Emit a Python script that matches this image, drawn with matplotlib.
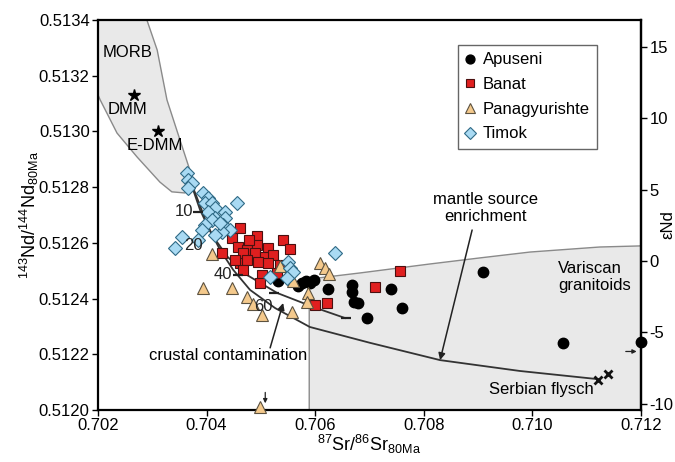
import numpy as np
import matplotlib
matplotlib.use('Agg')
import matplotlib.pyplot as plt

plt.rcParams['font.family'] = ['Liberation Sans', 'DejaVu Sans']
plt.rcParams['mathtext.fontset'] = 'custom'
plt.rcParams['mathtext.rm'] = 'Liberation Sans'
plt.rcParams['mathtext.it'] = 'Liberation Sans:italic'
plt.rcParams['mathtext.default'] = 'regular'
plt.rcParams['axes.unicode_minus'] = False

# --- sample data (87Sr/86Sr, 143Nd/144Nd at 80 Ma) ---
apuseni_sr = [0.70531, 0.70568, 0.70576, 0.70583, 0.70590, 0.70598, 0.70624, 0.70668,
              0.70668, 0.70671, 0.70679, 0.70740, 0.70760, 0.70695, 0.70909, 0.71056, 0.71200]
apuseni_nd = [0.512463, 0.512445, 0.512456, 0.512463, 0.512456, 0.512467, 0.512434, 0.512449,
              0.512424, 0.512388, 0.512384, 0.512434, 0.512366, 0.512330, 0.512495, 0.512241, 0.512244]

banat_sr = [0.70462, 0.70447, 0.70493, 0.70541, 0.70428, 0.70458, 0.70474, 0.70493, 0.70513,
            0.70554, 0.70467, 0.70489, 0.70508, 0.70522, 0.70462, 0.70474, 0.70495, 0.70513,
            0.70535, 0.70467, 0.70502, 0.70530, 0.70498, 0.70600, 0.70622, 0.70710, 0.70756,
            0.70478, 0.70452]
banat_nd = [0.512653, 0.512617, 0.512625, 0.512610, 0.512564, 0.512585, 0.512574, 0.512592, 0.512582,
            0.512578, 0.512564, 0.512564, 0.512549, 0.512556, 0.512528, 0.512538, 0.512531, 0.512528,
            0.512521, 0.512503, 0.512485, 0.512492, 0.512456, 0.512377, 0.512384, 0.512442, 0.512499,
            0.512610, 0.512538]

pana_sr = [0.70410, 0.70393, 0.70447, 0.70474, 0.70485, 0.70502, 0.70557, 0.70587, 0.70585,
           0.70535, 0.70559, 0.70609, 0.70618, 0.70625, 0.70498]
pana_nd = [0.512560, 0.512438, 0.512438, 0.512406, 0.512381, 0.512341, 0.512352, 0.512420, 0.512388,
           0.512517, 0.512463, 0.512528, 0.512510, 0.512488, 0.512012]

timok_sr = [0.70364, 0.70366, 0.70373, 0.70366, 0.70393, 0.70403, 0.70397, 0.70410, 0.70456,
            0.70415, 0.70403, 0.70434, 0.70415, 0.70434, 0.70410, 0.70430, 0.70397, 0.70443,
            0.70392, 0.70428, 0.70415, 0.70355, 0.70384, 0.70342, 0.70636, 0.70550, 0.70554,
            0.70559, 0.70548, 0.70517, 0.70425]
timok_nd = [0.512851, 0.512826, 0.512815, 0.512797, 0.512779, 0.512761, 0.512743, 0.512743, 0.512743,
            0.512725, 0.512711, 0.512711, 0.512689, 0.512689, 0.512682, 0.512664, 0.512664, 0.512646,
            0.512646, 0.512639, 0.512628, 0.512621, 0.512610, 0.512582, 0.512564, 0.512531, 0.512510,
            0.512495, 0.512474, 0.512477, 0.512671]

mantle_sr = [0.70266, 0.70310]        # DMM, E-DMM
mantle_nd = [0.513131, 0.513002]
flysch_sr = [0.71121, 0.71139]
flysch_nd = [0.512108, 0.512129]

# fields
morb_sr = [0.70200, 0.70290, 0.70309, 0.70327, 0.70351, 0.70369, 0.70375, 0.70360, 0.70336,
           0.70314, 0.70272, 0.70235, 0.70204, 0.70200]
morb_nd = [0.51340, 0.51340, 0.513292, 0.513113, 0.512969, 0.512862, 0.512808, 0.512779, 0.512783,
           0.512818, 0.512908, 0.512994, 0.513113, 0.513131]
varis_sr = [0.70589, 0.70589, 0.70683, 0.70811, 0.70904, 0.70996, 0.71124, 0.71200, 0.71200]
varis_nd = [0.51200, 0.512470, 0.512492, 0.512524, 0.512546, 0.512567, 0.512585, 0.512589, 0.51200]

# mixing curves
upper_sr = [0.70364, 0.70388, 0.70410, 0.70439, 0.70474, 0.70530, 0.70596, 0.70655]
upper_nd = [0.512854, 0.512718, 0.512628, 0.512549, 0.512485, 0.512420, 0.512370, 0.512330]
lower_sr = [0.70364, 0.70403, 0.70425, 0.70449, 0.70480, 0.70526, 0.70590, 0.70701, 0.70830,
            0.70977, 0.71119]
lower_nd = [0.512854, 0.512657, 0.512574, 0.512503, 0.512431, 0.512366, 0.512298, 0.512241, 0.512179,
            0.512140, 0.512111]

tick_pct = ['10', '20', '40', '60']
tick_lab_sr = [0.70375, 0.70393, 0.70447, 0.70522]
tick_lab_nd = [0.512711, 0.512589, 0.512485, 0.512370]
dash_sr = [0.70384, 0.70458, 0.70524, 0.70657]
dash_nd = [0.512711, 0.512485, 0.512420, 0.512330]

CHUR_80 = 0.512535


def nd_to_eps(nd):
    return (np.asarray(nd) / CHUR_80 - 1.0) * 1e4


def eps_to_nd(e):
    return (np.asarray(e) / 1e4 + 1.0) * CHUR_80


fig = plt.figure(figsize=(6.75, 4.62), dpi=100)
ax = fig.add_axes([0.1452, 0.1126, 0.8044, 0.8442])

field_kw = dict(facecolor='#e9e9e9', edgecolor='#8a8a8a', linewidth=1.0, zorder=0)
ax.fill(morb_sr, morb_nd, **field_kw)
ax.fill(varis_sr, varis_nd, **field_kw)

ax.plot(upper_sr, upper_nd, color='#333333', lw=1.3, zorder=1)
ax.plot(lower_sr, lower_nd, color='#333333', lw=1.3, zorder=1)
ax.plot(dash_sr, dash_nd, '_', color='#222222', ms=7, mew=1.6, zorder=4)
for t, x, y in zip(tick_pct, tick_lab_sr, tick_lab_nd):
    ax.text(x, y, t, ha='right', va='center', fontsize=12, color='#222222', zorder=5)

ax.plot(apuseni_sr, apuseni_nd, 'o', ms=7.5, mfc='black', mec='black', label='Apuseni',
        clip_on=False, zorder=3)
ax.plot(banat_sr, banat_nd, 's', ms=7, mfc='#e01f1f', mec='#4a1010', mew=0.8, label='Banat',
        clip_on=False, zorder=3)
ax.plot(pana_sr, pana_nd, '^', ms=8.5, mfc='#f4c98c', mec='#5c5240', mew=0.8, label='Panagyurishte',
        clip_on=False, zorder=3)
ax.plot(timok_sr, timok_nd, 'D', ms=7.3, mfc='#a9daf3', mec='#2f6a86', mew=0.8, label='Timok',
        clip_on=False, zorder=3)

ax.plot(mantle_sr, mantle_nd, '*', ms=9, color='black', zorder=3)
ax.plot(flysch_sr, flysch_nd, 'x', ms=6, mew=2, color='#111111', zorder=3)

ax.text(0.70255, 0.513282, 'MORB', ha='center', va='center', fontsize=12)
ax.text(0.70255, 0.513077, 'DMM', ha='center', va='center', fontsize=12)
ax.text(0.70305, 0.512948, 'E-DMM', ha='center', va='center', fontsize=12)
ax.text(0.71047, 0.512476, 'Variscan\ngranitoids', ha='left', va='center', fontsize=12,
        linespacing=1.15)
ax.text(0.71016, 0.512072, 'Serbian flysch', ha='center', va='center', fontsize=12)

arrow = dict(arrowstyle='-|>', color='#222222', lw=1.1, mutation_scale=10, shrinkA=0, shrinkB=0)
ax.text(0.70439, 0.512194, 'crustal contamination', ha='center', va='center', fontsize=12)
ax.annotate('', xy=(0.70541, 0.512384), xytext=(0.70517, 0.512223), arrowprops=dict(arrow))
ax.text(0.70913, 0.512725, 'mantle source\nenrichment', ha='center', va='center', fontsize=12,
        linespacing=1.15)
ax.annotate('', xy=(0.70830, 0.512179), xytext=(0.70889, 0.512646), arrowprops=dict(arrow))
small = dict(arrowstyle='-|>', color='#222222', lw=0.9, mutation_scale=6, shrinkA=0, shrinkB=0)
ax.annotate('', xy=(0.71192, 0.51221), xytext=(0.71172, 0.51221), arrowprops=small)
ax.annotate('', xy=(0.70508, 0.512024), xytext=(0.70508, 0.512063), arrowprops=small)

ax.set_xlim(0.702, 0.712)
ax.set_ylim(0.5120, 0.5134)
ax.set_xticks(np.arange(0.702, 0.7121, 0.002))
ax.set_xticklabels(['%.3f' % v for v in np.arange(0.702, 0.7121, 0.002)])
ax.set_yticks(np.arange(0.5120, 0.51341, 0.0002))
ax.set_yticklabels(['%.4f' % v for v in np.arange(0.5120, 0.51341, 0.0002)])
ax.tick_params(direction='out', length=4, width=1, labelsize=12, pad=2, right=False)
for s in ax.spines.values():
    s.set_linewidth(1.6)

sec = ax.secondary_yaxis('right', functions=(nd_to_eps, eps_to_nd))
sec.set_yticks([-10, -5, 0, 5, 10, 15])
sec.tick_params(direction='out', length=4, width=1, labelsize=12, pad=2)
sec.spines['right'].set_linewidth(1.6)
fig.text(668 / 675, 1 - 225 / 462, 'εNd', rotation=90, ha='center', va='center', fontsize=12)

ax.set_xlabel(r'$^{87}$Sr/$^{86}$Sr$_{80Ma}$', fontsize=13)
ax.xaxis.set_label_coords(0.5, -0.06)
ax.set_ylabel(r'$^{143}$Nd/$^{144}$Nd$_{80Ma}$', fontsize=13)
ax.yaxis.set_label_coords(-0.105, 0.5)

leg = ax.legend(loc='upper left', bbox_to_anchor=(0.663, 0.936), borderaxespad=0, fontsize=12,
                frameon=True, fancybox=False, framealpha=1, edgecolor='#666666',
                handlelength=0.6, handletextpad=0.45, borderpad=0.45, labelspacing=0.58,
                numpoints=1, markerscale=0.85)
leg.get_frame().set_linewidth(1.0)

fig.savefig('out.png', dpi=100)
